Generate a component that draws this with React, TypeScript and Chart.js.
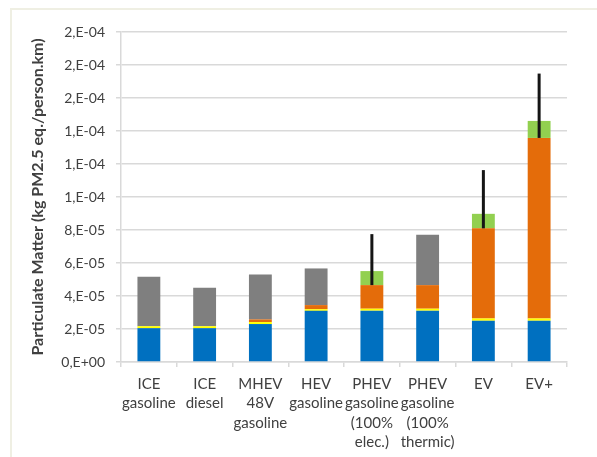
import React, { useEffect, useRef } from "react";
import { Chart, registerables } from "chart.js";

Chart.register(...registerables);

const categories: string[][] = [
  ["ICE", "gasoline"],
  ["ICE", "diesel"],
  ["MHEV", "48V", "gasoline"],
  ["HEV", "gasoline"],
  ["PHEV", "gasoline", "(100%", "elec.)"],
  ["PHEV", "gasoline", "(100%", "thermic)"],
  ["EV"],
  ["EV+"],
];

const blueValues = [2.05e-5, 2.05e-5, 2.3e-5, 3.1e-5, 3.11e-5, 3.11e-5, 2.5e-5, 2.5e-5];
const yellowValues = [0.12e-5, 0.12e-5, 0.12e-5, 0.1e-5, 0.12e-5, 0.12e-5, 0.14e-5, 0.14e-5];
const orangeValues = [0, 0, 0.16e-5, 0.25e-5, 1.43e-5, 1.43e-5, 5.46e-5, 10.94e-5];
const grayValues = [2.99e-5, 2.33e-5, 2.73e-5, 2.22e-5, 0, 3.05e-5, 0, 0];
const greenValues = [0, 0, 0, 0, 0.85e-5, 0, 0.88e-5, 1.03e-5];

const errorLow = [null, null, null, null, 4.66e-5, null, 8.1e-5, 13.58e-5];
const errorHigh = [null, null, null, null, 7.75e-5, null, 11.63e-5, 17.48e-5];

const yMin = 0;
const yMax = 2e-4;
const yStep = 2e-5;

function formatTick(v: number): string {
  if (Math.abs(v) < 1e-12) return "0,E+00";
  let exp = Math.floor(Math.log10(Math.abs(v)) + 1e-9);
  let mant = Math.round(v / Math.pow(10, exp));
  if (mant >= 10) {
    mant = 1;
    exp += 1;
  }
  const sign = exp < 0 ? "-" : "+";
  const e = String(Math.abs(exp)).padStart(2, "0");
  return `${mant},E${sign}${e}`;
}

const FONT = "Lato, 'Open Sans', sans-serif";
const TEXT = "#404040";
const GRID = "#d9d9d9";

const framePlugin = {
  id: "frame",
  beforeDraw(chart: any) {
    const ctx = chart.ctx;
    ctx.save();
    ctx.fillStyle = "#ffffff";
    ctx.fillRect(0, 0, chart.width, chart.height);
    ctx.strokeStyle = "#efefe3";
    ctx.lineWidth = 2;
    ctx.beginPath();
    ctx.moveTo(11, chart.height);
    ctx.lineTo(11, 9);
    ctx.lineTo(chart.width, 9);
    ctx.stroke();
    ctx.restore();
  },
};

const errorBarPlugin = {
  id: "errorBars",
  afterDatasetsDraw(chart: any) {
    const ctx = chart.ctx;
    const xs = chart.scales.x;
    const ys = chart.scales.y;
    ctx.save();
    ctx.strokeStyle = "#151515";
    ctx.lineWidth = 3;
    ctx.lineCap = "butt";
    for (let i = 0; i < categories.length; i++) {
      const lo = errorLow[i];
      const hi = errorHigh[i];
      if (lo == null || hi == null) continue;
      const x = xs.getPixelForValue(i);
      ctx.beginPath();
      ctx.moveTo(x, ys.getPixelForValue(lo));
      ctx.lineTo(x, ys.getPixelForValue(hi));
      ctx.stroke();
    }
    ctx.restore();
  },
};

export default function App() {
  const ref = useRef<HTMLCanvasElement | null>(null);

  useEffect(() => {
    if (!ref.current) return;
    const mk = (label: string, data: number[], color: string) => ({
      label,
      data,
      backgroundColor: color,
      borderWidth: 0,
      barPercentage: 0.41,
      categoryPercentage: 1,
    });
    const chart = new Chart(ref.current, {
      type: "bar",
      data: {
        labels: categories,
        datasets: [
          mk("blue", blueValues, "#0070c0"),
          mk("yellow", yellowValues, "#ffff00"),
          mk("orange", orangeValues, "#e46c0a"),
          mk("gray", grayValues, "#7f7f7f"),
          mk("green", greenValues, "#92d050"),
        ],
      },
      options: {
        responsive: false,
        animation: false,
        devicePixelRatio: 1,
        layout: { padding: { left: 0, right: 30, top: 32, bottom: 0 } },
        plugins: {
          legend: { display: false },
          tooltip: { enabled: false },
        },
        scales: {
          x: {
            stacked: true,
            afterFit: (s: any) => {
              s.height = 95;
            },
            grid: {
              drawOnChartArea: false,
              drawTicks: true,
              tickLength: 5,
              color: GRID,
              lineWidth: 1.5,
            },
            border: { display: true, color: GRID, width: 1.5 },
            ticks: {
              color: TEXT,
              font: { family: FONT, size: 15, lineHeight: 1.3 },
              maxRotation: 0,
              minRotation: 0,
              autoSkip: false,
              padding: 7,
            },
          },
          y: {
            stacked: true,
            min: yMin,
            max: yMax,
            afterFit: (s: any) => {
              s.width = 121;
            },
            grid: {
              color: GRID,
              lineWidth: 1.5,
              drawTicks: true,
              tickLength: 5,
            },
            border: { display: true, color: GRID, width: 1.5 },
            ticks: {
              stepSize: yStep,
              color: TEXT,
              font: { family: FONT, size: 14 },
              padding: 11,
              callback: (v: any) => formatTick(Number(v)),
            },
            title: {
              display: true,
              text: "Particulate Matter (kg PM2.5 eq./person.km)",
              color: TEXT,
              font: { family: FONT, size: 16, weight: "bold" },
              padding: { top: 28, bottom: 0 },
            },
          },
        },
      },
      plugins: [framePlugin, errorBarPlugin],
    });
    return () => chart.destroy();
  }, []);

  return (
    <div style={{ position: "fixed", left: 0, top: 0, width: 597, height: 457 }}>
      <canvas ref={ref} width={597} height={457} style={{ width: 597, height: 457 }} />
    </div>
  );
}
